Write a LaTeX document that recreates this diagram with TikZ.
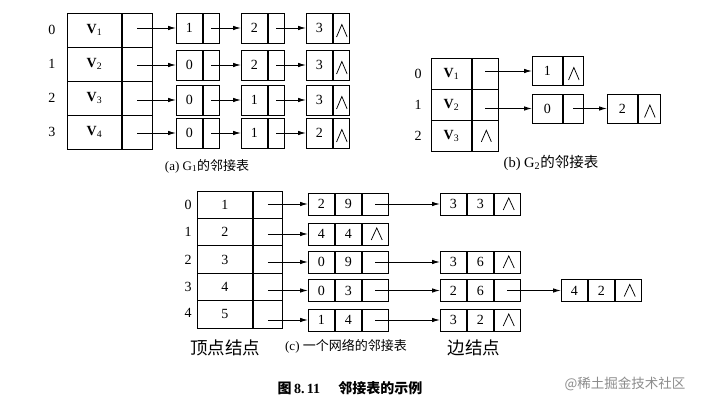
\documentclass[tikz,border=0pt]{standalone}
\usepackage{fontspec}
\setmainfont{Liberation Serif}
\newfontfamily\cjk{Noto Sans CJK SC}
\usetikzlibrary{arrows.meta}
\tikzset{
  cell/.style={draw, line width=0.9pt, inner sep=0pt, font=\fontsize{14}{14}\selectfont},
  arr/.style={-{Latex[length=8pt,width=4.5pt]}, line width=0.9pt},
  idx/.style={font=\fontsize{14}{14}\selectfont},
  captxt/.style={font=\fontsize{13}{13}\selectfont},
  bigtxt/.style={font=\fontsize{17.5}{18}\selectfont\cjk},
  nil/.style args={#1/#2/#3/#4}{path picture={
    \draw[line width=0.75pt, line join=miter]
      ([shift={(#1-#2,#4)}]path picture bounding box.center) --
      ([shift={(#1,-#3)}]path picture bounding box.center) --
      ([shift={(#1+#2,#4)}]path picture bounding box.center);}},
  nilA/.style={nil={0.5/5.3/3.5/9}},
  nilB/.style={nil={1/5/6/5.5}},
  nilC/.style={nil={1.5/5.5/6/6}},
}
% name, xleft, ycenter, w1, w2, h, text1, options of pointer cell
\newcommand{\twocell}[8]{%
  \node[cell, minimum width=#4, minimum height=#6, anchor=west] (#1d) at (#2,#3) {#7};
  \node[cell, minimum width=#5, minimum height=#6, anchor=west, #8] (#1p) at (#1d.east) {};
}
% name, xleft, ycenter, t1, t2, options of link cell
\newcommand{\threecell}[6]{%
  \node[cell, minimum width=26, minimum height=22, anchor=west] (#1a) at (#2,#3) {#4};
  \node[cell, minimum width=26, minimum height=22, anchor=west] (#1b) at (#1a.east) {#5};
  \node[cell, minimum width=26, minimum height=22, anchor=west, #6] (#1c) at (#1b.east) {};
}
\begin{document}
\begin{tikzpicture}[x=1pt,y=-1pt]
\useasboundingbox[fill=white] (0,0) rectangle (724,406);

% ---------------- (a) ----------------
\twocell{a0}{67}{30}{54}{30}{34}{\textbf{V}\textsubscript{1}}{}
\twocell{a1}{67}{64}{54}{30}{34}{\textbf{V}\textsubscript{2}}{}
\twocell{a2}{67}{98}{54}{30}{34}{\textbf{V}\textsubscript{3}}{}
\twocell{a3}{67}{132}{54}{30}{34}{\textbf{V}\textsubscript{4}}{}
\node[idx] (la0) at (52,30) {0};
\node[idx] (la1) at (52,64) {1};
\node[idx] (la2) at (52,98) {2};
\node[idx] (la3) at (52,132) {3};

\twocell{ae00}{176}{28}{26}{16}{30}{1}{}
\twocell{ae01}{241}{28}{26}{16}{30}{2}{}
\twocell{ae02}{306}{28}{26}{16}{30}{3}{nilA}
\twocell{ae10}{176}{65}{26}{16}{30}{0}{}
\twocell{ae11}{241}{65}{26}{16}{30}{2}{}
\twocell{ae12}{306}{65}{26}{16}{30}{3}{nilA}
\twocell{ae20}{176}{100}{26}{16}{30}{0}{}
\twocell{ae21}{241}{100}{26}{16}{30}{1}{}
\twocell{ae22}{306}{100}{26}{16}{30}{3}{nilA}
\twocell{ae30}{176}{133}{26}{16}{30}{0}{}
\twocell{ae31}{241}{133}{26}{16}{30}{1}{}
\twocell{ae32}{306}{133}{26}{16}{30}{2}{nilA}

\foreach \r in {0,1,2,3}{
  \draw[arr] (a\r p.center |- ae\r0d.west) -- (ae\r0d.west);
  \draw[arr] (ae\r0p.center) -- (ae\r1d.west);
  \draw[arr] (ae\r1p.center) -- (ae\r2d.west);
}
\node[captxt] (capa) at (207,166) {(a) G\textsubscript{1}{\cjk 的邻接表}};

% ---------------- (b) ----------------
\twocell{b0}{431}{73.7}{40}{26}{31.3}{\textbf{V}\textsubscript{1}}{}
\twocell{b1}{431}{105}{40}{26}{31.3}{\textbf{V}\textsubscript{2}}{}
\twocell{b2}{431}{136.3}{40}{26}{31.3}{\textbf{V}\textsubscript{3}}{nilB}
\node[idx] (lb0) at (418,73.7) {0};
\node[idx] (lb1) at (418,105) {1};
\node[idx] (lb2) at (418,136.3) {2};

\twocell{be00}{532}{71}{30}{20}{29}{1}{nilA}
\twocell{be10}{532}{108.5}{30}{20}{29}{0}{}
\twocell{be11}{607}{108.5}{30}{22}{29}{2}{nilA}
\draw[arr] (b0p.center |- be00d.west) -- (be00d.west);
\draw[arr] (b1p.center |- be10d.west) -- (be10d.west);
\draw[arr] (be10p.center) -- (be11d.west);
\node[captxt, font=\fontsize{14.5}{15}\selectfont] (capb) at (551,163) {(b) G\textsubscript{2}{\cjk 的邻接表}};

% ---------------- (c) ----------------
\twocell{c0}{197}{204.7}{55}{29}{27.4}{1}{}
\twocell{c1}{197}{232.1}{55}{29}{27.4}{2}{}
\twocell{c2}{197}{259.5}{55}{29}{27.4}{3}{}
\twocell{c3}{197}{286.9}{55}{29}{27.4}{4}{}
\twocell{c4}{197}{314.3}{55}{29}{27.4}{5}{}
\node[idx] (lc0) at (188,205) {0};
\node[idx] (lc1) at (188,232) {1};
\node[idx] (lc2) at (188,260) {2};
\node[idx] (lc3) at (188,287) {3};
\node[idx] (lc4) at (188,313) {4};

\threecell{ce00}{308}{204}{2}{9}{}
\threecell{ce01}{440}{204}{3}{3}{nilC}
\threecell{ce10}{308}{234}{4}{4}{nilC}
\threecell{ce20}{308}{262}{0}{9}{}
\threecell{ce21}{440}{262}{3}{6}{nilC}
\threecell{ce30}{308}{290.5}{0}{3}{}
\threecell{ce31}{440}{290.5}{2}{6}{}
\threecell{ce32}{561}{290.5}{4}{2}{nilC}
\threecell{ce40}{308}{320}{1}{4}{}
\threecell{ce41}{440}{320}{3}{2}{nilC}

\foreach \r in {0,1,2,3,4}{
  \draw[arr] (c\r p.center |- ce\r0a.west) -- (ce\r0a.west);
}
\draw[arr] (ce00c.center) -- (ce01a.west);
\draw[arr] (ce20c.center) -- (ce21a.west);
\draw[arr] (ce30c.center) -- (ce31a.west);
\draw[arr] (ce31c.center) -- (ce32a.west);
\draw[arr] (ce40c.center) -- (ce41a.west);

\node[bigtxt] (lvtx) at (225,348) {顶点结点};
\node[captxt] (capc) at (346,346) {(c) {\cjk 一个网络的邻接表}};
\node[bigtxt] (ledge) at (474,348) {边结点};

\node[font=\fontsize{14}{14}\selectfont\bfseries] (fig) at (350,388) {{\cjk 图}\,8.\,11\hspace{1.3em}{\cjk 邻接表的示例}};
\node[font=\fontsize{13.5}{14}\selectfont\cjk, text=black!45] (wm) at (625,384) {@稀土掘金技术社区};
\end{tikzpicture}
\end{document}
